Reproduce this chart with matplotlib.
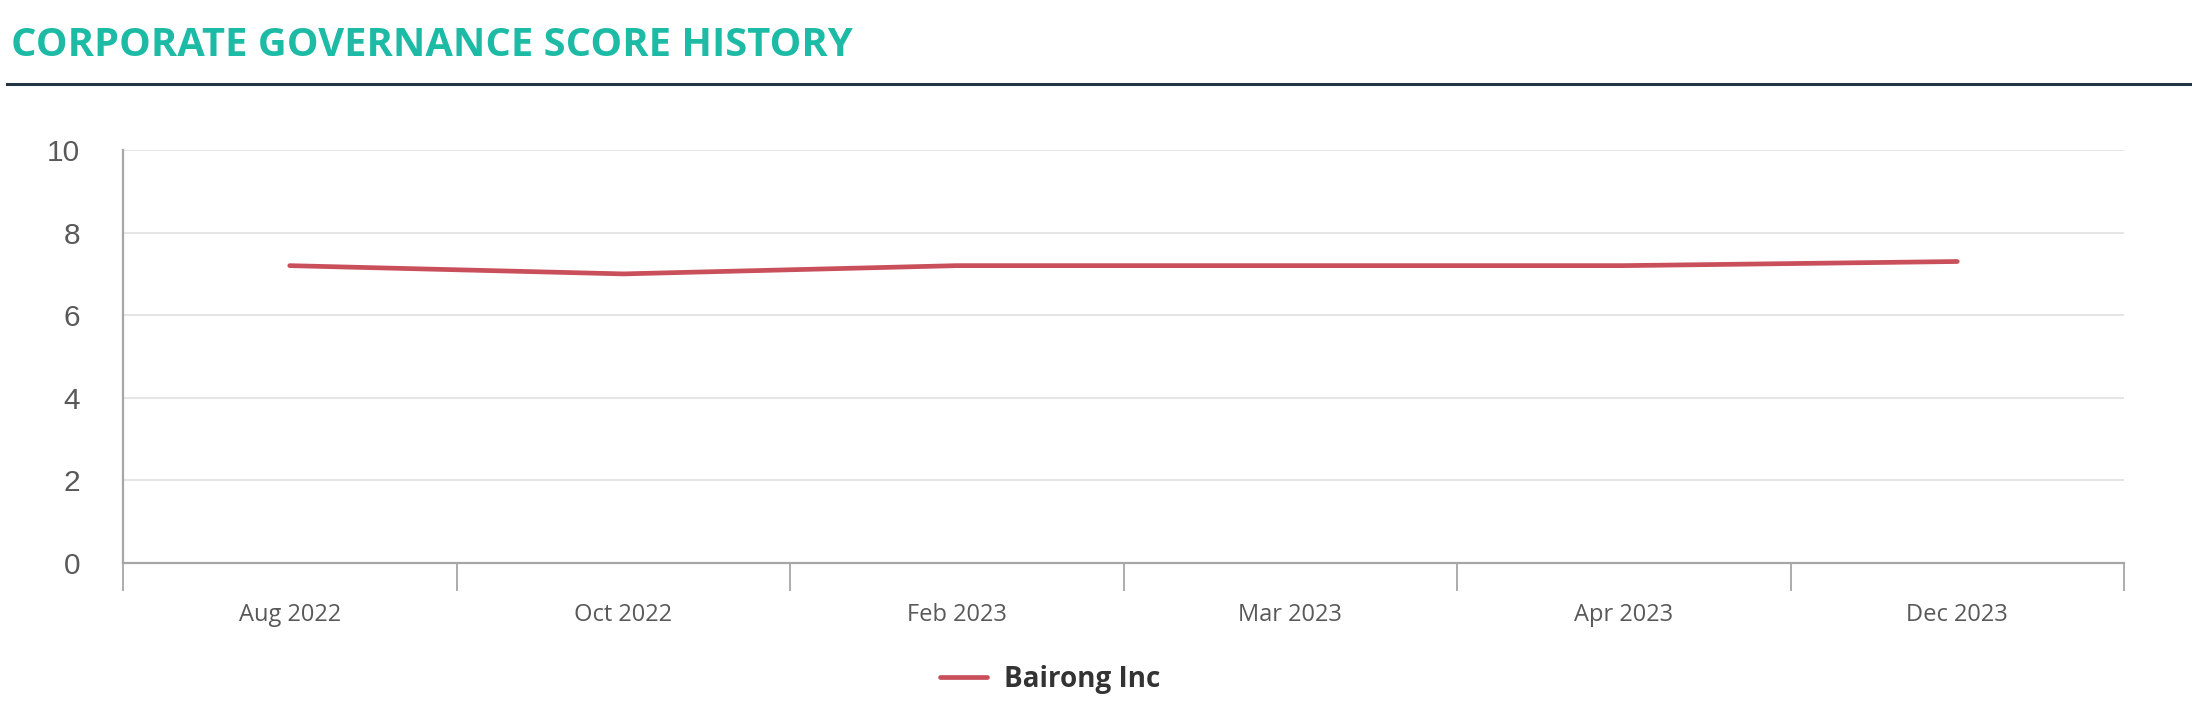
import matplotlib
matplotlib.use("Agg")
import matplotlib.pyplot as plt
from matplotlib.lines import Line2D
import numpy as np

# data
months = ["Aug 2022", "Oct 2022", "Feb 2023", "Mar 2023", "Apr 2023", "Dec 2023"]
scores = [7.2, 7.0, 7.2, 7.2, 7.2, 7.3]
company = "Bairong Inc"

W, H = 2192, 718
fig = plt.figure(figsize=(W / 100, H / 100), dpi=100)
ax = fig.add_axes([123 / W, 1 - 563 / H, (2124 - 123) / W, (563 - 150) / H])

x = np.arange(len(months))
ax.plot(x, scores, color="#c9505a", lw=3.4, solid_capstyle="round", label=company)

ax.set_xlim(-0.5, len(months) - 0.5)
ax.set_ylim(0, 10)
ax.set_yticks([0, 2, 4, 6, 8, 10])
ax.grid(axis="y", color="#e3e3e3", lw=1.3)
ax.set_axisbelow(True)

# boundary ticks (no labels) + centred labels
ax.set_xticks(np.arange(-0.5, len(months)), minor=False)
ax.set_xticklabels([])
ax.set_xticks(x, minor=True)
ax.set_xticklabels(months, minor=True, fontfamily="Open Sans", fontsize=17, color="#595959")
ax.tick_params(axis="x", which="major", length=20, width=1.3, color="#a6a6a6")
ax.tick_params(axis="x", which="minor", length=0, pad=28.5)
ax.tick_params(axis="y", length=0, pad=31, labelsize=21.5, labelcolor="#595959")
for lab in ax.get_yticklabels():
    lab.set_fontfamily("Liberation Sans")

for s in ["top", "right"]:
    ax.spines[s].set_visible(False)
for s in ["left", "bottom"]:
    ax.spines[s].set_color("#a6a6a6")
    ax.spines[s].set_linewidth(1.6)

fig.text(0.005, 1 - 45 / H, "CORPORATE GOVERNANCE SCORE HISTORY", fontfamily="Open Sans",
         fontweight="bold", fontsize=28.7, color="#1dbba5", va="center", ha="left")
fig.add_artist(Line2D([0.003, 1.0], [1 - 84 / H, 1 - 84 / H], color="#243447", lw=2.2))

fig.legend(loc="center", bbox_to_anchor=(1050 / W, 1 - 679 / H), frameon=False,
           prop={"family": "Open Sans", "weight": "bold", "size": 20},
           labelcolor="#333333", handlelength=1.7, handletextpad=0.6)

fig.savefig("out.png", dpi=100)
